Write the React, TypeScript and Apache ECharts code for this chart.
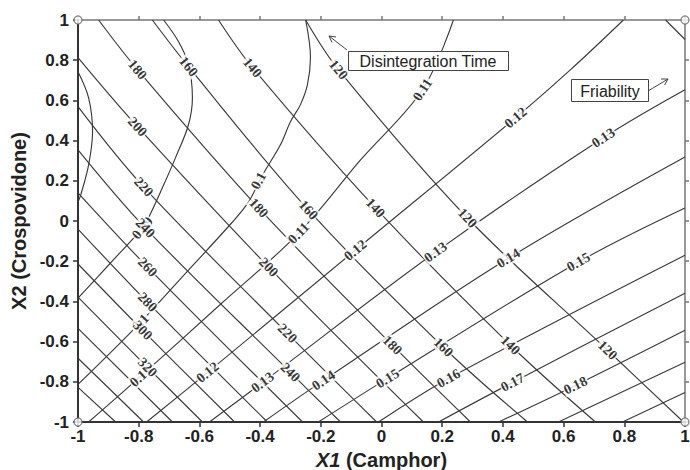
import React, { useEffect, useRef } from "react";
import * as echarts from "echarts";

type P = [number, number];

// ---- Disintegration time contours (X1, X2) ----
const dtLevels = [100, 120, 140, 160, 180, 200, 220, 240, 260, 280, 300, 320, 340, 360, 380];
const dt100: P[] = [[0.936, 1.0], [1.0, 0.903]];
const dt120: P[] = [[-0.25, 1.0], [-0.142, 0.753], [0.283, 0.015], [0.745, -0.643], [0.995, -1.0]];
const dt140: P[] = [[-0.537, 1.0], [-0.425, 0.763], [-0.02, 0.065], [0.425, -0.618], [0.705, -1.0]];
const dt160: P[] = [[-0.755, 1.0], [-0.636, 0.768], [-0.241, 0.055], [0.204, -0.628], [0.481, -1.0]];
const dt180: P[] = [[-0.932, 1.0], [-0.804, 0.753], [-0.405, 0.065], [0.036, -0.618], [0.293, -1.0]];
const dt200: P[] = [[-1.0, 0.813], [-0.804, 0.469], [-0.372, -0.229], [0.138, -1.0]];
const dt220: P[] = [[-1.0, 0.569], [-0.784, 0.17], [-0.31, -0.559], [-0.016, -1.0]];
const dt240: P[] = [[-1.0, 0.354], [-0.778, -0.035], [-0.3, -0.753], [-0.135, -1.0]];
const dt260: P[] = [[-1.0, 0.14], [-0.771, -0.229], [-0.26, -1.0]];
const dt280: P[] = [[-1.0, -0.04], [-0.771, -0.404], [-0.376, -1.0]];
const dt300: P[] = [[-1.0, -0.214], [-0.787, -0.544], [-0.484, -1.0]];
const dt320: P[] = [[-1.0, -0.379], [-0.771, -0.728], [-0.59, -1.0]];
const dt340: P[] = [[-1.0, -0.534], [-0.689, -1.0]];
const dt360: P[] = [[-1.0, -0.683], [-0.784, -1.0]];
const dt380: P[] = [[-1.0, -0.828], [-0.876, -1.0]];
const dtLines: P[][] = [dt100, dt120, dt140, dt160, dt180, dt200, dt220, dt240, dt260, dt280, dt300, dt320, dt340, dt360, dt380];

// ---- Friability contours ----
const frLevels = [0.08, 0.09, 0.1, 0.11, 0.12, 0.13, 0.14, 0.15, 0.16, 0.17, 0.18, 0.19, 0.2];
const fr008: P[] = [[-1.0, 0.743], [-0.965, 0.613], [-0.952, 0.444], [-0.965, 0.279], [-0.991, 0.13], [-1.0, 0.095]];
const fr009: P[] = [[-0.718, 1.0], [-0.669, 0.893], [-0.636, 0.778], [-0.623, 0.613], [-0.636, 0.479], [-0.679, 0.314], [-0.722, 0.165], [-0.768, 0.015], [-0.788, -0.035], [-0.893, -0.209], [-1.0, -0.384]];
const fr010: P[] = [[-0.25, 1.0], [-0.234, 0.813], [-0.244, 0.678], [-0.267, 0.579], [-0.3, 0.494], [-0.333, 0.379], [-0.392, 0.229], [-0.438, 0.095], [-0.491, -0.005], [-0.642, -0.254], [-0.794, -0.504], [-1.0, -0.813]];
const fr011: P[] = [[0.237, 1.0], [0.135, 0.653], [-0.069, 0.304], [-0.273, -0.06], [-0.534, -0.419], [-0.794, -0.773], [-0.965, -1.0]];
const fr012: P[] = [[0.797, 1.0], [0.623, 0.753], [0.442, 0.514], [-0.086, -0.145], [-0.573, -0.753], [-0.774, -1.0]];
const fr013: P[] = [[1.0, 0.653], [0.731, 0.414], [0.178, -0.155], [-0.392, -0.803], [-0.567, -1.0]];
const fr014: P[] = [[1.0, 0.319], [0.418, -0.185], [-0.191, -0.793], [-0.389, -1.0]];
const fr015: P[] = [[1.0, 0.065], [0.649, -0.204], [0.02, -0.783], [-0.208, -1.0]];
const fr016: P[] = [[1.0, -0.17], [0.221, -0.783], [-0.01, -1.0]];
const fr017: P[] = [[1.0, -0.359], [0.432, -0.803], [0.188, -1.0]];
const fr018: P[] = [[1.0, -0.544], [0.639, -0.818], [0.386, -1.0]];
const fr019: P[] = [[1.0, -0.703], [0.583, -1.0]];
const fr020: P[] = [[1.0, -0.853], [0.794, -1.0]];
const frLines: P[][] = [fr008, fr009, fr010, fr011, fr012, fr013, fr014, fr015, fr016, fr017, fr018, fr019, fr020];

// ---- Contour labels: [X1, X2, level] ----
const dtLabels: [number, number, number][] = [
  [-0.804, 0.753, 180], [-0.636, 0.768, 160], [-0.425, 0.763, 140], [-0.142, 0.753, 120],
  [-0.804, 0.469, 200], [-0.784, 0.17, 220], [-0.778, -0.035, 240], [-0.771, -0.229, 260],
  [-0.771, -0.404, 280], [-0.787, -0.544, 300], [-0.771, -0.728, 320],
  [-0.405, 0.065, 180], [-0.241, 0.055, 160], [-0.02, 0.065, 140], [0.283, 0.015, 120],
  [-0.372, -0.229, 200], [-0.31, -0.559, 220], [-0.3, -0.753, 240],
  [0.036, -0.618, 180], [0.204, -0.628, 160], [0.425, -0.618, 140], [0.745, -0.643, 120],
];
const frLabels: [number, number, number][] = [
  [-0.405, 0.2, 0.1], [0.135, 0.653, 0.11], [0.442, 0.514, 0.12], [0.731, 0.414, 0.13],
  [-0.273, -0.06, 0.11], [-0.086, -0.145, 0.12], [0.178, -0.155, 0.13], [0.418, -0.185, 0.14], [0.649, -0.204, 0.15],
  [-0.788, -0.035, 0.09], [-0.794, -0.504, 0.1], [-0.794, -0.773, 0.11], [-0.573, -0.753, 0.12],
  [-0.392, -0.803, 0.13], [-0.191, -0.793, 0.14], [0.02, -0.783, 0.15], [0.221, -0.783, 0.16],
  [0.432, -0.803, 0.17], [0.639, -0.818, 0.18],
];

const axisMin = -1;
const axisMax = 1;
const axisStep = 0.2;
const frameCorners: P[] = [[-1, 1], [1, 1], [-1, -1], [1, -1]];

const SANS = "'Liberation Sans', Arial, sans-serif";
const SERIF = "'Liberation Serif', 'Times New Roman', serif";
const LINE_COLOR = "#3a3a3a";

function tangentAngle(chart: any, line: P[], x: number, y: number): number {
  const pts = line.map((p) => chart.convertToPixel({ xAxisIndex: 0, yAxisIndex: 0 }, p));
  const q = chart.convertToPixel({ xAxisIndex: 0, yAxisIndex: 0 }, [x, y]);
  let bi = 0;
  let bd = Infinity;
  pts.forEach((p: number[], i: number) => {
    const d = (p[0] - q[0]) ** 2 + (p[1] - q[1]) ** 2;
    if (d < bd) {
      bd = d;
      bi = i;
    }
  });
  const a = pts[Math.max(0, bi - 1)];
  const b = pts[Math.min(pts.length - 1, bi + 1)];
  let ang = (Math.atan2(-(b[1] - a[1]), b[0] - a[0]) * 180) / Math.PI;
  if (ang > 90) ang -= 180;
  if (ang <= -90) ang += 180;
  return ang;
}

function buildOption(dtAngles: number[], frAngles: number[]): any {
  const lineSeries: any[] = [];
  const addLines = (lines: P[][], levels: number[], tag: string) => {
    lines.forEach((pts, i) => {
      lineSeries.push({
        type: "line",
        name: `${tag}${levels[i]}`,
        data: pts,
        smooth: 0.35,
        symbol: "none",
        silent: true,
        clip: true,
        z: 2,
        lineStyle: { color: LINE_COLOR, width: 1.15 },
      });
    });
  };
  addLines(dtLines, dtLevels, "dt");
  addLines(frLines, frLevels, "fr");

  const labelStyle = {
    show: true,
    position: "inside",
    formatter: (p: any) => p.name,
    fontFamily: SERIF,
    fontWeight: "bold",
    fontSize: 14,
    color: "#000",
    backgroundColor: "#fff",
    padding: [0, 1],
  };
  const mkLabels = (labels: [number, number, number][], angles: number[]) =>
    labels.map((l, i) => ({
      name: String(l[2]),
      value: [l[0], l[1]],
      label: { rotate: angles[i] || 0 },
    }));

  return {
    animation: false,
    backgroundColor: "#fff",
    grid: { left: 78, right: 5, top: 20, bottom: 48, containLabel: false, outerBoundsMode: "none" },
    xAxis: [
      {
        type: "value",
        min: axisMin,
        max: axisMax,
        interval: axisStep,
        position: "bottom",
        splitLine: { show: false },
        axisLine: { show: true, onZero: false, lineStyle: { color: "#333", width: 2 } },
        axisTick: { show: true, length: 5, lineStyle: { color: "#333", width: 1.5 } },
        axisLabel: { color: "#222", fontFamily: SANS, fontWeight: "bold", fontSize: 17, margin: 6 },
        name: "{i|X1} (Camphor)",
        nameLocation: "middle",
        nameGap: 25,
        nameTextStyle: {
          color: "#222",
          fontFamily: SANS,
          fontWeight: "bold",
          fontSize: 20,
          rich: { i: { fontStyle: "italic", fontWeight: "bold", fontSize: 20, fontFamily: SANS, color: "#222" } },
        },
      },
      {
        type: "value",
        min: axisMin,
        max: axisMax,
        interval: axisStep,
        position: "top",
        splitLine: { show: false },
        axisLine: { show: true, onZero: false, lineStyle: { color: "#777", width: 1.5 } },
        axisTick: { show: true, length: 4, lineStyle: { color: "#777", width: 1.5 } },
        axisLabel: { show: false },
      },
    ],
    yAxis: [
      {
        type: "value",
        min: axisMin,
        max: axisMax,
        interval: axisStep,
        position: "left",
        splitLine: { show: false },
        axisLine: { show: true, onZero: false, lineStyle: { color: "#333", width: 2 } },
        axisTick: { show: true, length: 5, lineStyle: { color: "#333", width: 1.5 } },
        axisLabel: { color: "#222", fontFamily: SANS, fontWeight: "bold", fontSize: 17, margin: 9 },
        name: "X2 (Crospovidone)",
        nameLocation: "middle",
        nameGap: 48,
        nameTextStyle: { color: "#222", fontFamily: SANS, fontWeight: "bold", fontSize: 20 },
      },
      {
        type: "value",
        min: axisMin,
        max: axisMax,
        interval: axisStep,
        position: "right",
        splitLine: { show: false },
        axisLine: { show: true, onZero: false, lineStyle: { color: "#777", width: 1.5 } },
        axisTick: { show: true, length: 4, lineStyle: { color: "#777", width: 1.5 } },
        axisLabel: { show: false },
      },
    ],
    series: [
      ...lineSeries,
      {
        type: "scatter",
        name: "frLabels",
        data: mkLabels(frLabels, frAngles),
        symbolSize: 1,
        itemStyle: { color: "rgba(0,0,0,0)" },
        label: labelStyle,
        silent: true,
        z: 4,
      },
      {
        type: "scatter",
        name: "dtLabels",
        data: mkLabels(dtLabels, dtAngles),
        symbolSize: 1,
        itemStyle: { color: "rgba(0,0,0,0)" },
        label: labelStyle,
        silent: true,
        z: 5,
      },
      {
        type: "scatter",
        name: "corners",
        data: frameCorners,
        symbol: "circle",
        symbolSize: 8,
        clip: false,
        silent: true,
        z: 10,
        itemStyle: { color: "#fff", borderColor: "#666", borderWidth: 1.3 },
      },
    ],
    graphic: [
      {
        type: "rect",
        shape: { x: 348.5, y: 51.5, width: 160, height: 19 },
        style: { fill: "#fff", stroke: "#444", lineWidth: 1 },
        z: 20,
      },
      {
        type: "text",
        x: 428,
        y: 61,
        style: { text: "Disintegration Time", font: `16px ${SANS}`, fill: "#222", align: "center", verticalAlign: "middle" },
        z: 21,
      },
      {
        type: "line",
        shape: { x1: 347, y1: 50, x2: 329, y2: 36 },
        style: { stroke: "#444", lineWidth: 1 },
        z: 20,
      },
      {
        type: "polyline",
        shape: { points: [[336, 37], [329, 36], [332, 42.5]] },
        style: { stroke: "#444", lineWidth: 1, fill: "none" },
        z: 20,
      },
      {
        type: "rect",
        shape: { x: 571.5, y: 79.5, width: 77, height: 22 },
        style: { fill: "#fff", stroke: "#444", lineWidth: 1 },
        z: 20,
      },
      {
        type: "text",
        x: 610,
        y: 91,
        style: { text: "Friability", font: `16px ${SANS}`, fill: "#222", align: "center", verticalAlign: "middle" },
        z: 21,
      },
      {
        type: "line",
        shape: { x1: 648, y1: 91, x2: 668, y2: 79 },
        style: { stroke: "#444", lineWidth: 1 },
        z: 20,
      },
      {
        type: "polyline",
        shape: { points: [[661, 79], [668, 79], [664.6, 85]] },
        style: { stroke: "#444", lineWidth: 1, fill: "none" },
        z: 20,
      },
    ],
  };
}

export default function App() {
  const ref = useRef<HTMLDivElement>(null);
  useEffect(() => {
    if (!ref.current) return;
    const chart = echarts.init(ref.current, undefined, { renderer: "svg" });
    chart.setOption(buildOption([], []));
    const lineFor = (levels: number[], lines: P[][], lv: number) => lines[levels.indexOf(lv)];
    const dtAngles = dtLabels.map((l) => tangentAngle(chart, lineFor(dtLevels, dtLines, l[2]), l[0], l[1]));
    const frAngles = frLabels.map((l) => tangentAngle(chart, lineFor(frLevels, frLines, l[2]), l[0], l[1]));
    chart.setOption(buildOption(dtAngles, frAngles), true);
    return () => chart.dispose();
  }, []);
  return (
    <div
      ref={ref}
      style={{ position: "absolute", left: 0, top: 0, width: 690, height: 470, background: "#fff" }}
    />
  );
}
